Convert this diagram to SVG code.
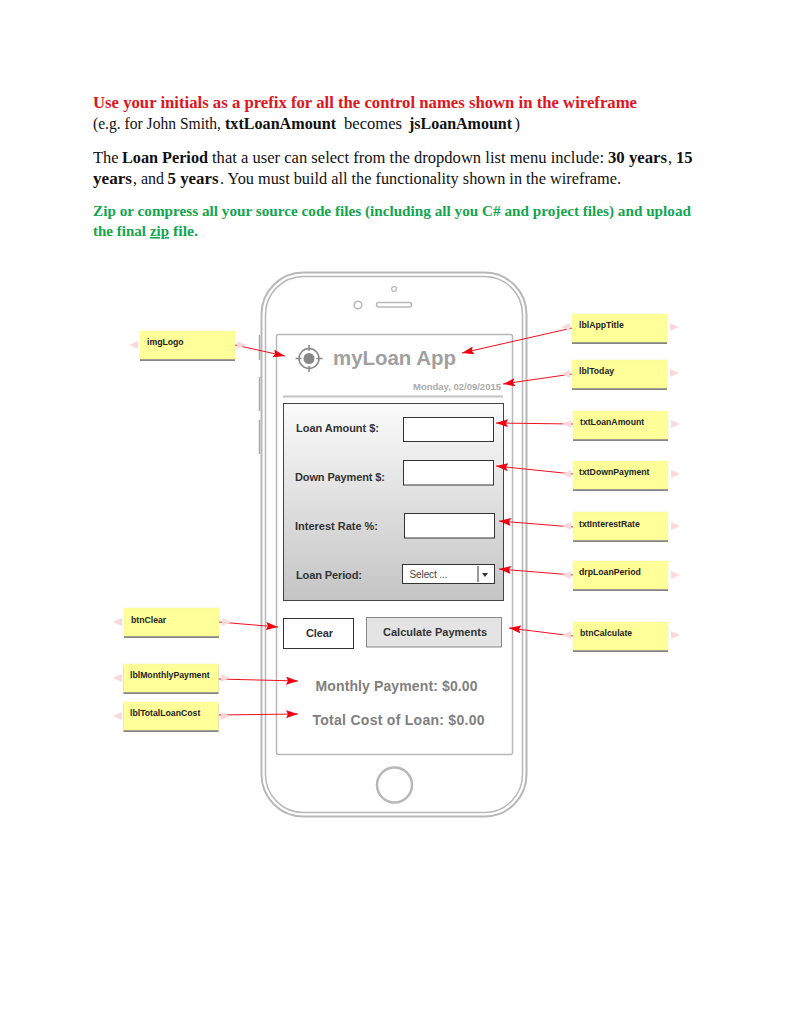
<svg xmlns="http://www.w3.org/2000/svg" width="791" height="1024" viewBox="0 0 791 1024">
<style>
.doc{font-family:"Liberation Serif","DejaVu Serif",serif;font-size:16.5px;fill:#111}
.b{font-weight:bold}
.red{fill:#e0141c;font-weight:bold}
.grn{fill:#12a550;font-weight:bold;font-size:15.5px}
.ui{font-family:"Liberation Sans",Arial,sans-serif;font-weight:bold}
.lab{font-size:11px;fill:#333}
.note{fill:#ffff99;stroke:#f2f2a0;stroke-width:.5}
.sh{fill:#666;opacity:.8;filter:url(#bl)}
.nt{font-family:"Liberation Sans",Arial,sans-serif;font-weight:bold;font-size:8.7px;fill:#222}
.pk{fill:#fcd8da}
.con{stroke:#f01020;stroke-width:1;fill:none;marker-end:url(#ah)}
.ln{fill:none;stroke:#b8b8b8}
.inp{fill:#fff;stroke:#333;stroke-width:1}
</style>
<defs>
<linearGradient id="pg" x1="0" y1="0" x2="0" y2="1"><stop offset="0" stop-color="#fbfbfb"/><stop offset="1" stop-color="#c4c4c4"/></linearGradient>
<filter id="bl" x="-5%" y="-20%" width="110%" height="140%"><feGaussianBlur stdDeviation=".7"/></filter>
<marker id="ah" viewBox="0 0 12 8" refX="12" refY="4" markerWidth="12" markerHeight="8" markerUnits="userSpaceOnUse" orient="auto"><path d="M0 0L12 4L0 8L2 4Z" fill="#f00010"/></marker>
</defs>
<rect width="791" height="1024" fill="#fff"/>
<g id="instructions">
<text class="doc red" x="93" y="108" textLength="544" lengthAdjust="spacingAndGlyphs">Use your initials as a prefix for all the control names shown in the wireframe</text>
<text class="doc" x="93" y="129" textLength="128" lengthAdjust="spacingAndGlyphs">(e.g. for John Smith,</text>
<text class="doc b" x="225" y="129" textLength="111" lengthAdjust="spacingAndGlyphs">txtLoanAmount</text>
<text class="doc" x="344" y="129" textLength="58" lengthAdjust="spacingAndGlyphs">becomes</text>
<text class="doc b" x="409" y="129" textLength="103" lengthAdjust="spacingAndGlyphs">jsLoanAmount</text>
<text class="doc" x="514.500" y="129">)</text>
<text class="doc" x="93" y="163">The</text>
<text class="doc b" x="122" y="163" textLength="86" lengthAdjust="spacingAndGlyphs">Loan Period</text>
<text class="doc" x="212" y="163" textLength="392" lengthAdjust="spacingAndGlyphs">that a user can select from the dropdown list menu include:</text>
<text class="doc b" x="608" y="163" textLength="59" lengthAdjust="spacingAndGlyphs">30 years</text>
<text class="doc" x="668" y="163">,</text>
<text class="doc b" x="676" y="163">15</text>
<text class="doc b" x="93" y="184" textLength="39" lengthAdjust="spacingAndGlyphs">years</text>
<text class="doc" x="133" y="184" textLength="31" lengthAdjust="spacingAndGlyphs">, and</text>
<text class="doc b" x="167.500" y="184" textLength="51" lengthAdjust="spacingAndGlyphs">5 years</text>
<text class="doc" x="220" y="184" textLength="401" lengthAdjust="spacingAndGlyphs">. You must build all the functionality shown in the wireframe.</text>
<text class="doc grn" x="93" y="216" textLength="598" lengthAdjust="spacingAndGlyphs">Zip or compress all your source code files (including all you C# and project files) and upload</text>
<text class="doc grn" x="93" y="236" textLength="53" lengthAdjust="spacingAndGlyphs">the final</text>
<text class="doc grn" x="150" y="236" text-decoration="underline" textLength="19" lengthAdjust="spacingAndGlyphs">zip</text>
<text class="doc grn" x="173" y="236" textLength="25" lengthAdjust="spacingAndGlyphs">file.</text>
</g>
<g id="phone">
<rect class="ln" x="261.500" y="272.500" width="265" height="544" rx="42" stroke-width="2"/>
<rect class="ln" x="265.500" y="276.500" width="257" height="536" rx="38" stroke-width="1.500"/>
<path d="M259.500 335V360M259.500 377V411M259.500 420V454" stroke="#aaa" stroke-width="1.500" fill="none"/>
<circle class="ln" cx="358" cy="305" r="3.800" stroke-width="1.500"/>
<circle class="ln" cx="394" cy="289" r="2.400" stroke-width="1.200"/>
<rect class="ln" x="376.500" y="302.500" width="35" height="4.500" rx="2.200" stroke-width="1.500"/>
<rect class="ln" x="276.500" y="334.500" width="236" height="420" rx="2" stroke-width="1.500"/>
<circle class="ln" cx="394.500" cy="785" r="17.500" stroke-width="2.500"/>
</g>
<g id="imgLogo-icon">
<circle cx="309" cy="358.500" r="10" fill="none" stroke="#888" stroke-width="1.500"/>
<circle cx="309" cy="358.500" r="5.500" fill="#888"/>
<path d="M309 345V351M309 366V372M295.500 358.500H301.500M316.500 358.500H322.500" stroke="#888" stroke-width="1.500"/>
</g>
<g id="lblAppTitle-ui"><text class="ui" x="333" y="365" font-size="20.500" fill="#a0a0a0" textLength="123">myLoan App</text></g>
<g id="lblToday-ui">
<text class="ui" x="501" y="390" font-size="9.500" fill="#aaa" text-anchor="end">Monday, 02/09/2015</text>
<path d="M283 396.500H503" stroke="#c4c4c4" stroke-width="2"/>
</g>
<g id="form-panel">
<rect x="283.500" y="403.500" width="220" height="197" fill="url(#pg)" stroke="#444"/>
<text class="ui lab" x="296" y="432" textLength="83">Loan Amount $:</text>
<text class="ui lab" x="295" y="481" textLength="90">Down Payment $:</text>
<text class="ui lab" x="295" y="530" textLength="83">Interest Rate %:</text>
<text class="ui lab" x="296" y="579" textLength="66">Loan Period:</text>
</g>
<g id="txtLoanAmount-ui"><rect class="inp" x="403.500" y="417.500" width="90" height="24"/></g>
<g id="txtDownPayment-ui"><rect class="inp" x="403.500" y="460.500" width="90" height="24.500"/></g>
<g id="txtInterestRate-ui"><rect class="inp" x="404.500" y="513.500" width="90" height="24.500"/></g>
<g id="drpLoanPeriod-ui">
<rect class="inp" x="402.500" y="564.500" width="92" height="19"/>
<text x="409.500" y="578" font-size="10" fill="#444" font-family="Liberation Sans, Arial, sans-serif" textLength="38">Select ...</text>
<path d="M478 566V582" stroke="#333"/>
<path d="M482 573H488L485 577Z" fill="#333"/>
</g>
<g id="btnClear-ui">
<rect x="283.500" y="618.500" width="70" height="30" fill="#fff" stroke="#333"/>
<text class="ui" x="306" y="637" font-size="11" fill="#333" textLength="27">Clear</text>
</g>
<g id="btnCalculate-ui">
<rect x="366.500" y="617.500" width="135" height="29.500" fill="#e4e4e4" stroke="#888"/>
<text class="ui" x="383" y="636" font-size="11" fill="#333" textLength="104">Calculate Payments</text>
</g>
<g id="output-labels">
<text class="ui" x="315.500" y="691" font-size="14" fill="#808080" textLength="162">Monthly Payment: $0.00</text>
<text class="ui" x="312.500" y="725" font-size="14" fill="#808080" textLength="172">Total Cost of Loan: $0.00</text>
</g>
<g id="connectors">
<path class="con" d="M235 345L285 356"/>
<path class="con" d="M572 328L462 353"/>
<path class="con" d="M572 374L503 384"/>
<path class="con" d="M573 424L496 423"/>
<path class="con" d="M573 474L496 466"/>
<path class="con" d="M573 527L499 521"/>
<path class="con" d="M573 575L499 569"/>
<path class="con" d="M573 636L509 628"/>
<path class="con" d="M219 622L278 627"/>
<path class="con" d="M218 679L298 681"/>
<path class="con" d="M218 715L298 714"/>
</g>
<g id="imgLogo"><rect class="sh" x="140" y="333" width="95" height="28"/><rect class="note" x="140" y="331" width="95" height="28"/><text class="nt" x="147" y="345">imgLogo</text><path class="pk" d="M129 345L138 341V349ZM246 345L237 341V349Z"/></g>
<g id="lblAppTitle"><rect class="sh" x="572" y="316" width="95" height="28"/><rect class="note" x="572" y="314" width="95" height="28"/><text class="nt" x="579" y="328">lblAppTitle</text><path class="pk" d="M561 327L570 323V331ZM679 327L670 323V331Z"/></g>
<g id="lblToday"><rect class="sh" x="572" y="362" width="95" height="28"/><rect class="note" x="572" y="360" width="95" height="28"/><text class="nt" x="579" y="374">lblToday</text><path class="pk" d="M561 374L570 370V378ZM679 373L670 369V377Z"/></g>
<g id="txtLoanAmount"><rect class="sh" x="573" y="413" width="95" height="28"/><rect class="note" x="573" y="411" width="95" height="28"/><text class="nt" x="580" y="425">txtLoanAmount</text><path class="pk" d="M562 424L571 420V428ZM680 424L671 420V428Z"/></g>
<g id="txtDownPayment"><rect class="sh" x="573" y="463" width="95" height="28"/><rect class="note" x="573" y="461" width="95" height="28"/><text class="nt" x="579" y="475">txtDownPayment</text><path class="pk" d="M562 474L571 470V478ZM680 474L671 470V478Z"/></g>
<g id="txtInterestRate"><rect class="sh" x="573" y="514" width="95" height="28"/><rect class="note" x="573" y="512" width="95" height="28"/><text class="nt" x="579" y="527">txtInterestRate</text><path class="pk" d="M562 526L571 522V530ZM680 526L671 522V530Z"/></g>
<g id="drpLoanPeriod"><rect class="sh" x="573" y="563" width="95" height="28"/><rect class="note" x="573" y="561" width="95" height="28"/><text class="nt" x="579" y="575">drpLoanPeriod</text><path class="pk" d="M562 575L571 571V579ZM680 575L671 571V579Z"/></g>
<g id="btnCalculate"><rect class="sh" x="573" y="624" width="95" height="28"/><rect class="note" x="573" y="622" width="95" height="28"/><text class="nt" x="580" y="636">btnCalculate</text><path class="pk" d="M562 635L571 631V639ZM680 635L671 631V639Z"/></g>
<g id="btnClear"><rect class="sh" x="124" y="610" width="95" height="28"/><rect class="note" x="124" y="608" width="95" height="28"/><text class="nt" x="131" y="623">btnClear</text><path class="pk" d="M113 622L122 618V626ZM231 622L222 618V626Z"/></g>
<g id="lblMonthlyPayment"><rect class="sh" x="123.500" y="666" width="95" height="28"/><rect class="note" x="123.500" y="664" width="95" height="28"/><text class="nt" x="130" y="678">lblMonthlyPayment</text><path class="pk" d="M113 678L122 674V682ZM230 678L221 674V682Z"/></g>
<g id="lblTotalLoanCost"><rect class="sh" x="123.500" y="704" width="95" height="28"/><rect class="note" x="123.500" y="702" width="95" height="28"/><text class="nt" x="130" y="716">lblTotalLoanCost</text><path class="pk" d="M113 716L122 712V720ZM230 716L221 712V720Z"/></g>
</svg>
